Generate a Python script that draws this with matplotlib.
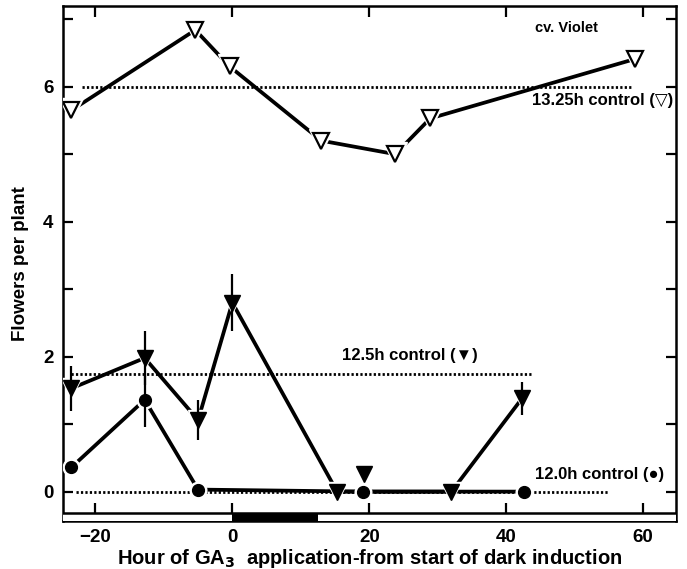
import numpy as np
import matplotlib.pyplot as plt
from matplotlib.patches import Rectangle

plt.rcParams['font.family'] = ['Liberation Sans', 'DejaVu Sans']
plt.rcParams['font.weight'] = 'bold'

# cv. Violet, 13.25h photoperiod (open triangles)
hours_1325 = [-23.5, -5.4, -0.4, 13.0, 23.8, 28.9, 58.8]
flowers_1325 = [5.65, 6.84, 6.30, 5.20, 5.00, 5.53, 6.41]

# 12.5h photoperiod (filled triangles)
hours_125 = [-23.5, -12.8, -5.0, 0.0, 15.3, 32.0, 42.3]
flowers_125 = [1.53, 1.98, 1.06, 2.80, 0.0, 0.0, 1.38]
err_125 = [0.33, 0.40, 0.30, 0.42, 0.0, 0.0, 0.25]
extra_125_x = [19.2]
extra_125_y = [0.26]

# 12.0h photoperiod (filled circles)
hours_120 = [-23.5, -12.8, -5.0, 19.1, 42.6]
flowers_120 = [0.36, 1.36, 0.03, 0.0, 0.0]
err_120 = [0.0, 0.40, 0.0, 0.0, 0.0]

# controls
ctrl_1325 = 6.0
ctrl_125 = 1.75
ctrl_120 = 0.0

dark_start, dark_end = 0.0, 12.5

fig = plt.figure(figsize=(6.87, 5.69), dpi=100)
ax = fig.add_axes([0.092, 0.085, 0.892, 0.905])

xmin, xmax = -24.7, 64.8
ymin, ymax = -0.43, 7.2
strip_top = -0.31

dot = (0, (0.8, 0.8))
ax.plot([-22, 58.5], [ctrl_1325] * 2, color='black', lw=2, ls=dot, zorder=2)
ax.plot([-23.5, 43.6], [ctrl_125] * 2, color='black', lw=2, ls=dot, zorder=2)
ax.plot([-22.8, 54.8], [ctrl_120] * 2, color='black', lw=2, ls=dot, zorder=2)

# connecting lines
ax.plot(hours_1325, flowers_1325, color='black', lw=2.7, zorder=3)
ax.plot(hours_120, flowers_120, color='black', lw=2.7, zorder=3)
ax.plot(hours_125, flowers_125, color='black', lw=2.7, zorder=3)

# white halos so lines stop short of the symbols
halo = dict(ls='none', color='white', zorder=3.5)
ax.plot(hours_1325, flowers_1325, marker='v', ms=17, **halo)
ax.plot(hours_125, flowers_125, marker='v', ms=15, **halo)
ax.plot(hours_120, flowers_120, marker='o', ms=12, **halo)

# error bars
ax.errorbar(hours_125, flowers_125, yerr=err_125, fmt='none', ecolor='black',
            elinewidth=1.6, capsize=0, zorder=4)
ax.errorbar(hours_120, flowers_120, yerr=err_120, fmt='none', ecolor='black',
            elinewidth=1.6, capsize=0, zorder=4)

# symbols
ax.plot(hours_1325, flowers_1325, ls='none', marker='v', ms=11,
        mfc='white', mec='black', mew=1.6, zorder=5)
ax.plot(hours_125, flowers_125, ls='none', marker='v', ms=11,
        color='black', zorder=5)
ax.plot(hours_120, flowers_120, ls='none', marker='o', ms=8.5,
        color='black', zorder=5)
ax.plot(extra_125_x, extra_125_y, ls='none', marker='v', ms=11,
        color='black', zorder=5)

# light / dark bar at the bottom
ax.add_patch(Rectangle((xmin, ymin), xmax - xmin, strip_top - ymin,
                       facecolor='white', edgecolor='none', zorder=6))
ax.add_patch(Rectangle((dark_start, ymin), dark_end - dark_start,
                       strip_top - ymin, facecolor='black',
                       edgecolor='none', zorder=7))
ax.axhline(strip_top, color='black', lw=1.8, zorder=8)

xt = [-20, 0, 20, 40, 60]
ax.set_xlim(xmin, xmax)
ax.set_ylim(ymin, ymax)
ax.set_xticks(xt)
ax.set_xticklabels(['\u221220', '0', '20', '40', '60'])
ax.tick_params(axis='x', which='both', direction='in', bottom=False,
               top=True, labeltop=False, length=8, width=1.6,
               labelsize=13.5, pad=6)

# ticks rising from the top of the light/dark bar
sec = ax.secondary_xaxis((strip_top - ymin) / (ymax - ymin))
sec.set_xticks(xt)
sec.tick_params(direction='in', length=7, width=1.6, labelbottom=False)
sec.spines['bottom'].set_visible(False)

ax.set_yticks([0, 2, 4, 6])
ax.set_yticks([1, 3, 5, 7], minor=True)
ax.tick_params(axis='y', which='both', direction='in', length=7, width=1.6,
               right=True, labelsize=13.5, pad=7)
for lab in ax.get_xticklabels() + ax.get_yticklabels():
    lab.set_fontweight('bold')

for s in ax.spines.values():
    s.set_linewidth(1.8)

ax.set_ylabel('Flowers per plant', fontsize=13.5, fontweight='bold', labelpad=10)
ax.set_xlabel('Hour of GA$_\\mathbf{3}$  application-from start of dark induction',
              fontsize=14.5, fontweight='bold', labelpad=1)

ax.text(48.8, 6.87, 'cv. Violet', fontsize=10.5, fontweight='bold',
        ha='center', va='center')
ax.text(64.4, 5.8, '13.25h control (\u25bd)', fontsize=12, fontweight='bold',
        ha='right', va='center')
ax.text(26.0, 2.02, '12.5h control (\u25bc)', fontsize=12, fontweight='bold',
        ha='center', va='center')
ax.text(53.7, 0.26, '12.0h control (\u25cf)', fontsize=12, fontweight='bold',
        ha='center', va='center')

fig.savefig('out.png', dpi=100)
